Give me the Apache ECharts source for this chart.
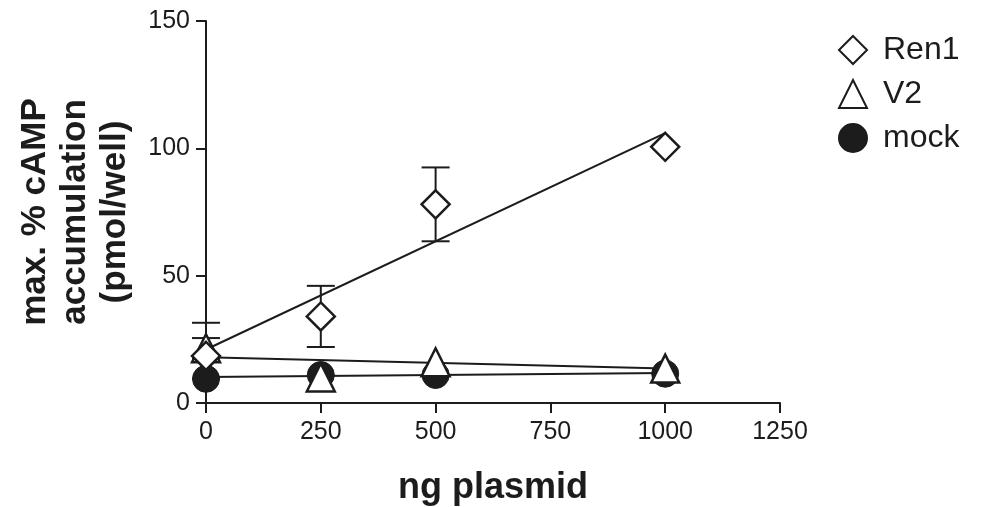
<!DOCTYPE html>
<html>
<head>
<meta charset="utf-8">
<script src="https://cdn.jsdelivr.net/npm/echarts@6/dist/echarts.min.js"></script>
<style>
  html, body { margin: 0; padding: 0; background: #fff; }
  #main { width: 983px; height: 507px; }
</style>
</head>
<body>
<div id="main"></div>
<script>
// ng plasmid doses
var doses = [0, 250, 500, 1000];

// mean values
var ren1 = [18.5, 34, 78, 100.6];
var v2 = [21.5, 10, 16, 13.5];
var mock = [9.5, 11, 11, 11.5];

// error bar extents (up / down); 0 = hidden behind the symbol
var ren1ErrUp = [13, 12, 14.5, 0];
var ren1ErrDown = [9, 12, 14.5, 0];
var v2ErrUp = [4, 0, 0, 0];
var v2ErrDown = [4, 0, 0, 0];

// fitted lines (endpoints)
var fitX = [0, 1000];
var ren1Fit = [21, 106];
var v2Fit = [18, 13.5];
var mockFit = [10.2, 11.8];

var xTicks = [0, 250, 500, 750, 1000, 1250];
var yTicks = [0, 50, 100, 150];

var ink = '#1c1c1c';
var font = '"Liberation Sans", Arial, sans-serif';

function pairs(xs, ys) {
  return xs.map(function (x, i) { return [x, ys[i]]; });
}
function errData(xs, ys, up, down) {
  return xs.map(function (x, i) { return [x, ys[i] - down[i], ys[i] + up[i]]; });
}

function errorBar(params, api) {
  var x = api.value(0);
  if (api.value(1) === api.value(2)) return null;
  var lo = api.coord([x, api.value(1)]);
  var hi = api.coord([x, api.value(2)]);
  var w = 14;
  var st = { stroke: ink, lineWidth: 2 };
  return {
    type: 'group',
    children: [
      { type: 'line', shape: { x1: lo[0], y1: lo[1], x2: hi[0], y2: hi[1] }, style: st },
      { type: 'line', shape: { x1: hi[0] - w, y1: hi[1], x2: hi[0] + w, y2: hi[1] }, style: st },
      { type: 'line', shape: { x1: lo[0] - w, y1: lo[1], x2: lo[0] + w, y2: lo[1] }, style: st }
    ]
  };
}

function fitLine(name, ys) {
  return {
    name: name,
    type: 'line',
    data: pairs(fitX, ys),
    symbol: 'none',
    z: 1,
    lineStyle: { color: ink, width: 2 },
    silent: true
  };
}
function bars(name, ys, up, down) {
  return {
    name: name,
    type: 'custom',
    renderItem: errorBar,
    data: errData(doses, ys, up, down),
    z: 2,
    silent: true
  };
}

var myChart = echarts.init(document.getElementById('main'));

var option = {
  animation: false,
  backgroundColor: '#fff',
  grid: { left: 206, right: 203, top: 21, bottom: 104, outerBoundsMode: 'none', containLabel: false },
  legend: {
    data: ['Ren1', 'V2', 'mock'],
    orient: 'vertical',
    left: 833,
    top: 29,
    itemWidth: 28,
    itemHeight: 28,
    itemGap: 12,
    textStyle: { fontFamily: font, fontSize: 32, color: ink, lineHeight: 30, padding: [0, 0, 0, 11] }
  },
  xAxis: {
    type: 'value',
    min: 0,
    max: 1250,
    interval: 250,
    name: 'ng plasmid',
    nameLocation: 'middle',
    nameGap: 67,
    nameTextStyle: { fontFamily: font, fontSize: 36, fontWeight: 'bold', color: ink },
    axisLine: { lineStyle: { color: ink, width: 2 } },
    axisTick: { length: 10, lineStyle: { color: ink, width: 2 } },
    axisLabel: { margin: 17, fontFamily: font, fontSize: 25, color: ink, formatter: function (v) { return String(v); } },
    splitLine: { show: false }
  },
  yAxis: {
    type: 'value',
    min: 0,
    max: 150,
    interval: 50,
    name: 'max. % cAMP\naccumulation\n(pmol/well)',
    nameLocation: 'middle',
    nameRotate: 90,
    nameGap: 71,
    nameTextStyle: { fontFamily: font, fontSize: 35, fontWeight: 'bold', color: ink, lineHeight: 40 },
    axisLine: { show: true, lineStyle: { color: ink, width: 2 } },
    axisTick: { show: true, length: 10, lineStyle: { color: ink, width: 2 } },
    axisLabel: { margin: 16, fontFamily: font, fontSize: 25, color: ink },
    splitLine: { show: false }
  },
  series: [
    fitLine('fitRen1', ren1Fit),
    fitLine('fitV2', v2Fit),
    fitLine('fitMock', mockFit),
    bars('errRen1', ren1, ren1ErrUp, ren1ErrDown),
    bars('errV2', v2, v2ErrUp, v2ErrDown),
    {
      name: 'mock',
      type: 'scatter',
      data: pairs(doses, mock),
      symbol: 'circle',
      symbolSize: 27,
      z: 3,
      itemStyle: { color: ink, borderColor: ink, borderWidth: 1, opacity: 1 }
    },
    {
      name: 'V2',
      type: 'scatter',
      data: pairs(doses, v2),
      symbol: 'triangle',
      symbolSize: [28, 28],
      z: 4,
      itemStyle: { color: '#fff', borderColor: ink, borderWidth: 2.5, opacity: 1 }
    },
    {
      name: 'Ren1',
      type: 'scatter',
      data: pairs(doses, ren1),
      symbol: 'diamond',
      symbolSize: [28, 28],
      z: 5,
      itemStyle: { color: '#fff', borderColor: ink, borderWidth: 2.5, opacity: 1 }
    }
  ]
};

myChart.setOption(option);
</script>
</body>
</html>
